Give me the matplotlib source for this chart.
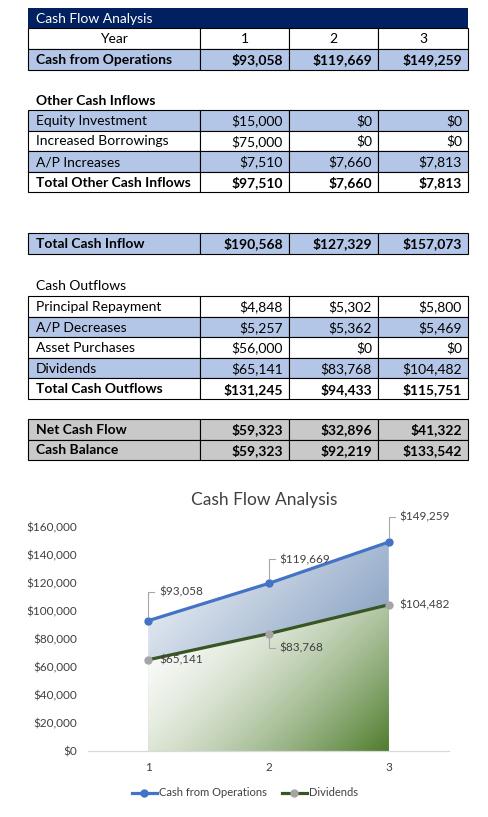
import numpy as np
import matplotlib
matplotlib.use("Agg")
import matplotlib.pyplot as plt
from matplotlib.patches import Rectangle

years = [1, 2, 3]
cash_from_operations = [93058, 119669, 149259]
equity_investment = [15000, 0, 0]
increased_borrowings = [75000, 0, 0]
ap_increases = [7510, 7660, 7813]
total_other_inflows = [97510, 7660, 7813]
total_cash_inflow = [190568, 127329, 157073]
principal_repayment = [4848, 5302, 5800]
ap_decreases = [5257, 5362, 5469]
asset_purchases = [56000, 0, 0]
dividends = [65141, 83768, 104482]
total_cash_outflows = [131245, 94433, 115751]
net_cash_flow = [59323, 32896, 41322]
cash_balance = [59323, 92219, 133542]

W, H = 489, 817
FONT = "Lato"
BLUE_ROW = "#B4C6E7"
GRAY_ROW = "#C9C9C9"
NAVY = "#002060"
col_x = [28, 200, 289, 378, 468]
ROW_H = 20.6


def money(v):
    return f"${v:,.0f}"


def draw_row(ax, top, label, values, fill, bold=False, centered=False):
    weight = "bold" if bold else "normal"
    for i in range(4):
        ax.add_patch(Rectangle((col_x[i], top), col_x[i + 1] - col_x[i], ROW_H,
                               facecolor=fill, edgecolor="black", lw=0.8))
    yc = top + ROW_H / 2 + 0.5
    if centered:
        ax.text((col_x[0] + col_x[1]) / 2, yc, label, ha="center", va="center",
                fontsize=10, family=FONT, weight=weight)
    else:
        ax.text(col_x[0] + 8, yc, label, ha="left", va="center",
                fontsize=10, family=FONT, weight=weight)
    for i, v in enumerate(values):
        if centered:
            ax.text((col_x[i + 1] + col_x[i + 2]) / 2, yc, str(v), ha="center",
                    va="center", fontsize=10, family=FONT, weight=weight)
        else:
            ax.text(col_x[i + 2] - 6, yc, money(v), ha="right", va="center",
                    fontsize=10, family=FONT, weight=weight)


def gradient_fill(ax, x, y, c0, c1, power, z):
    poly = ax.fill_between(x, 0, y, facecolor="none", edgecolor="none", zorder=z)
    x0, x1, y0, y1 = min(x), max(x), 0, max(y)
    p0 = ax.transData.transform((x0, y0))
    p1 = ax.transData.transform((x1, y1))
    pw, ph = abs(p1[0] - p0[0]), abs(p1[1] - p0[1])
    u = np.linspace(0, 1, 300)[None, :]
    v = np.linspace(0, 1, 300)[:, None]
    t = (u * pw + v * ph) / (pw + ph)
    t = t ** power
    c0 = np.array(c0) / 255.0
    c1 = np.array(c1) / 255.0
    img = c0[None, None, :] + (c1 - c0)[None, None, :] * t[:, :, None]
    im = ax.imshow(img, extent=[x0, x1, y0, y1], origin="upper",
                   aspect="auto", zorder=z, interpolation="bilinear")
    im.set_clip_path(poly.get_paths()[0], ax.transData)


def main():
    fig = plt.figure(figsize=(W / 100, H / 100), dpi=100)
    page = fig.add_axes([0, 0, 1, 1])
    page.set_xlim(0, W)
    page.set_ylim(H, 0)
    page.axis("off")

    # title bar
    page.add_patch(Rectangle((28, 8), 440, 20, facecolor=NAVY, edgecolor="none"))
    page.text(36, 18.5, "Cash Flow Analysis", color="white", ha="left", va="center",
              fontsize=10, family=FONT)

    draw_row(page, 28, "Year", years, "white", centered=True)
    draw_row(page, 49, "Cash from Operations", cash_from_operations, BLUE_ROW, bold=True)

    page.text(36, 101, "Other Cash Inflows", ha="left", va="center", fontsize=10,
              family=FONT, weight="bold")
    draw_row(page, 110, "Equity Investment", equity_investment, BLUE_ROW)
    draw_row(page, 110 + ROW_H, "Increased Borrowings", increased_borrowings, "white")
    draw_row(page, 110 + 2 * ROW_H, "A/P Increases", ap_increases, BLUE_ROW)
    draw_row(page, 110 + 3 * ROW_H, "Total Other Cash Inflows", total_other_inflows,
             "white", bold=True)

    draw_row(page, 233, "Total Cash Inflow", total_cash_inflow, BLUE_ROW, bold=True)

    page.text(36, 286, "Cash Outflows", ha="left", va="center", fontsize=10, family=FONT)
    draw_row(page, 296, "Principal Repayment", principal_repayment, "white")
    draw_row(page, 296 + ROW_H, "A/P Decreases", ap_decreases, BLUE_ROW)
    draw_row(page, 296 + 2 * ROW_H, "Asset Purchases", asset_purchases, "white")
    draw_row(page, 296 + 3 * ROW_H, "Dividends", dividends, BLUE_ROW)
    draw_row(page, 296 + 4 * ROW_H, "Total Cash Outflows", total_cash_outflows,
             "white", bold=True)

    draw_row(page, 419, "Net Cash Flow", net_cash_flow, GRAY_ROW, bold=True)
    draw_row(page, 419 + ROW_H, "Cash Balance", cash_balance, GRAY_ROW, bold=True)

    # chart
    ax = fig.add_axes([88 / W, (H - 751) / H, (449 - 88) / W, (751 - 527) / H])
    ax.set_xlim(0.5, 3.5)
    ax.set_ylim(0, 160000)
    ax.patch.set_alpha(0)

    gradient_fill(ax, years, cash_from_operations, (250, 251, 253), (93, 128, 173), 1.0, 1)
    gradient_fill(ax, years, dividends, (255, 255, 255), (78, 124, 44), 1.7, 2)
    ax.set_xlim(0.5, 3.5)
    ax.set_ylim(0, 160000)

    ax.plot(years, cash_from_operations, color="#4472C4", lw=2.3, marker="o", ms=5,
            mfc="#4472C4", mec="#4472C4", zorder=4, label="Cash from Operations")
    ax.plot(years, dividends, color="#375623", lw=2.3, marker="o", ms=5,
            mfc="#A5A5A5", mec="#A5A5A5", zorder=4, label="Dividends")

    # data labels with leader lines (offsets in pixels)
    cfo_offsets = [29, 24, 25]
    div_offsets = [0, -14, 0]
    inv = ax.transData.inverted()
    for series, offsets in ((cash_from_operations, cfo_offsets), (dividends, div_offsets)):
        for xv, yv, dy in zip(years, series, offsets):
            if dy != 0:
                sgn = 1 if dy > 0 else -1
                px, py = ax.transData.transform((xv, yv))
                xs = [px, px, px + 6]
                ys = [py + 4 * sgn, py + dy, py + dy]
                dxy = inv.transform(np.column_stack([xs, ys]))
                ax.plot(dxy[:, 0], dxy[:, 1], color="#A6A6A6", lw=0.8, zorder=5,
                        clip_on=False)
            ax.annotate(money(yv), (xv, yv), xytext=(11 * 0.72, dy * 0.72),
                        textcoords="offset points", ha="left", va="center",
                        fontsize=8.5, family=FONT, color="#404040", zorder=6)

    ax.set_xticks(years)
    ax.set_xticklabels([str(y) for y in years])
    yt = np.arange(0, 160001, 20000)
    ax.set_yticks(yt)
    ax.set_yticklabels([money(v) for v in yt])
    for lab in ax.get_xticklabels() + ax.get_yticklabels():
        lab.set_family(FONT)
        lab.set_fontsize(8.5)
        lab.set_color("#404040")
    ax.tick_params(length=0)
    ax.tick_params(axis="y", pad=8)
    ax.tick_params(axis="x", pad=8)
    for s in ("top", "right", "left"):
        ax.spines[s].set_visible(False)
    ax.spines["bottom"].set_color("#D9D9D9")
    ax.spines["bottom"].set_linewidth(0.9)

    fig.text(264 / W, 1 - 500 / H, "Cash Flow Analysis", ha="center", va="center",
             fontsize=12.5, family=FONT, color="#404040")

    handles, labels = ax.get_legend_handles_labels()
    fig.legend(handles, labels, loc="center", bbox_to_anchor=(245 / W, 1 - 793 / H),
               ncol=2, frameon=False, prop={"family": FONT, "size": 8},
               handlelength=2.3, columnspacing=1.3, handletextpad=0.2,
               labelcolor="#404040")

    fig.savefig("out.png", dpi=100)


if __name__ == "__main__":
    main()
